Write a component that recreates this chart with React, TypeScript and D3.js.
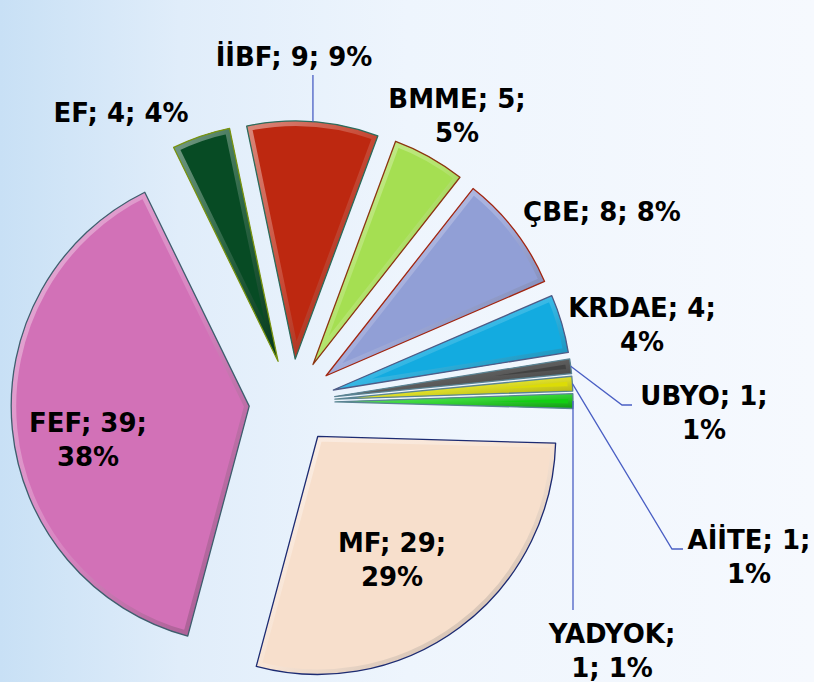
import React from "react";
import * as d3 from "d3";

const WIDTH = 814;
const HEIGHT = 682;

// data, clockwise from just right of 3 o'clock
const CATEGORIES = ["MF", "FEF", "EF", "İİBF", "BMME", "ÇBE", "KRDAE", "UBYO", "AİİTE", "YADYOK"];
const COUNTS = [29, 39, 4, 9, 5, 8, 4, 1, 1, 1];
const PERCENTS = [29, 38, 4, 9, 5, 8, 4, 1, 1, 1];
// how many "; " parts go on the first label line
const FIRST_LINE_PARTS = [2, 2, 3, 3, 2, 3, 2, 2, 2, 1];

const COLORS = ["#f7dfcc", "#d271b7", "#074b24", "#bd2810", "#a5df52", "#919fd6", "#13abe0", "#424242", "#dcdc06", "#12cf12"];
const EDGE_COLORS = ["#1c2b72", "#3f5f6e", "#7a9410", "#2b6c5c", "#8c3512", "#a3260f", "#4f5b86", "#5b8494", "#5b8494", "#5b8494"];

const CENTER = { x: 292, y: 402 };
const RADIUS = 238;
const EXPLODE = 43;
const START_ANGLE = (91.6 * Math.PI) / 180;

const FONT = "'DejaVu Sans', Verdana, sans-serif";
const FONT_SIZE = 26;
const LINE_H = 34;

// label anchor (center x, first baseline)
const LABEL_POS: Record<string, [number, number]> = {
  MF: [392, 552],
  FEF: [88, 432],
  EF: [121, 122],
  "İİBF": [294, 66],
  BMME: [457, 108],
  "ÇBE": [602, 221],
  KRDAE: [642, 317],
  UBYO: [704, 405],
  "AİİTE": [749, 549],
  YADYOK: [612, 643],
};

// leader elbows (from slice edge to label)
const LEADERS: Record<string, [number, number][]> = {
  "İİBF": [[0, 75]],
  UBYO: [[622, 405], [632, 405]],
  "AİİTE": [[672, 549], [683, 549]],
  YADYOK: [[0, 610]],
};

export default function App() {
  const pie = d3
    .pie<number>()
    .sort(null)
    .startAngle(START_ANGLE)
    .endAngle(START_ANGLE + Math.PI * 2);
  const arcs = pie(COUNTS);
  const arcGen = d3.arc<d3.PieArcDatum<number>>().innerRadius(0).outerRadius(RADIUS);

  const slices = arcs.map((a, i) => {
    const mid = (a.startAngle + a.endAngle) / 2;
    const dx = EXPLODE * Math.sin(mid);
    const dy = -EXPLODE * Math.cos(mid);
    const outer: [number, number] = [
      CENTER.x + (EXPLODE + RADIUS) * Math.sin(mid),
      CENTER.y - (EXPLODE + RADIUS) * Math.cos(mid),
    ];
    return { a, i, dx, dy, outer, d: arcGen(a) || "" };
  });

  return (
    <svg
      width={WIDTH}
      height={HEIGHT}
      style={{ position: "absolute", left: 0, top: 0, display: "block" }}
    >
      <defs>
        <linearGradient id="bg" x1="0" y1="0" x2="1" y2="0">
          <stop offset="0" stopColor="#c8e0f5" />
          <stop offset="0.22" stopColor="#e0edfa" />
          <stop offset="0.5" stopColor="#eef5fd" />
          <stop offset="1" stopColor="#f6f9fe" />
        </linearGradient>
        {slices.map(({ i, d }) => (
          <React.Fragment key={i}>
            <clipPath id={`clip${i}`}>
              <path d={d} />
            </clipPath>
            <linearGradient id={`bev${i}`} x1="0" y1="0" x2="1" y2="1">
              <stop offset="0" stopColor={d3.interpolateRgb(COLORS[i], "#ffffff")(0.45)} />
              <stop offset="0.5" stopColor={d3.interpolateRgb(COLORS[i], "#ffffff")(0.15)} />
              <stop offset="1" stopColor={d3.interpolateRgb(COLORS[i], "#000000")(0.25)} />
            </linearGradient>
          </React.Fragment>
        ))}
      </defs>

      <rect width={WIDTH} height={HEIGHT} fill="url(#bg)" />

      {/* slices */}
      {slices.map(({ i, d, dx, dy }) => (
        <g key={i} transform={`translate(${CENTER.x + dx},${CENTER.y + dy})`}>
          <path d={d} fill={COLORS[i]} />
          <path
            d={d}
            fill="none"
            stroke={`url(#bev${i})`}
            strokeWidth={10}
            strokeLinejoin="miter"
            clipPath={`url(#clip${i})`}
          />
          <path d={d} fill="none" stroke={EDGE_COLORS[i]} strokeWidth={1.3} strokeLinejoin="round" />
        </g>
      ))}

      {/* leader lines */}
      {slices.map(({ i, outer }) => {
        const pts = LEADERS[CATEGORIES[i]];
        if (!pts) return null;
        const line = [outer, ...pts.map(([x, y]) => [x === 0 ? outer[0] : x, y] as [number, number])];
        return (
          <path
            key={`l${i}`}
            d={d3.line()(line) || ""}
            fill="none"
            stroke="#4a5fc4"
            strokeWidth={1.3}
          />
        );
      })}

      {/* labels */}
      {CATEGORIES.map((cat, i) => {
        const parts = [cat, String(COUNTS[i]), `${PERCENTS[i]}%`];
        const n = FIRST_LINE_PARTS[i];
        const first = parts.slice(0, n).join("; ") + (n < 3 ? ";" : "");
        const second = parts.slice(n).join("; ");
        const [x, y] = LABEL_POS[cat];
        return (
          <text
            key={`t${i}`}
            x={x}
            y={y}
            textAnchor="middle"
            fontFamily={FONT}
            fontWeight="bold"
            fontSize={FONT_SIZE}
            fill="#000"
          >
            <tspan x={x}>{first}</tspan>
            {second && (
              <tspan x={x} dy={LINE_H}>
                {second}
              </tspan>
            )}
          </text>
        );
      })}
    </svg>
  );
}
